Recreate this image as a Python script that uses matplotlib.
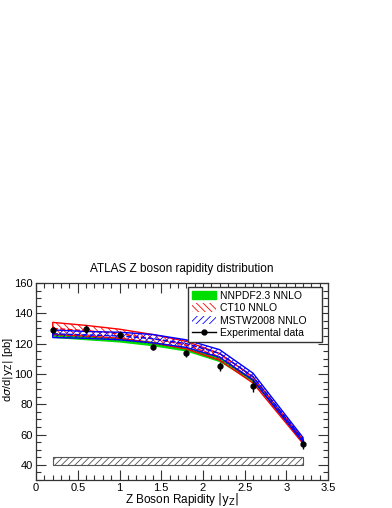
import matplotlib
matplotlib.use("Agg")
import matplotlib.pyplot as plt
import numpy as np
from matplotlib.ticker import MultipleLocator

plt.rcParams['font.family'] = ['Liberation Sans', 'DejaVu Sans']
plt.rcParams['hatch.linewidth'] = 0.6

x = [0.2, 0.6, 1.0, 1.4, 1.8, 2.2, 2.6, 3.2]
nnpdf_lo = [124.0, 122.5, 121.0, 118.5, 115.0, 108.0, 94.5, 54.5]
nnpdf_hi = [127.0, 125.5, 124.0, 121.5, 118.0, 111.0, 97.0, 56.5]
ct10_lo = [126.0, 125.0, 123.5, 120.5, 116.5, 109.0, 94.0, 54.0]
ct10_hi = [134.0, 132.0, 129.5, 126.0, 121.5, 113.5, 98.0, 56.5]
mstw_lo = [124.0, 123.5, 122.5, 120.5, 117.5, 111.0, 96.0, 55.0]
mstw_hi = [129.0, 128.0, 127.5, 126.0, 122.5, 116.0, 100.5, 58.0]
data_y = [129.0, 129.5, 126.0, 118.0, 113.5, 105.0, 92.0, 53.5]
data_err = [2.0, 2.5, 2.0, 2.0, 2.5, 3.0, 4.0, 3.0]
sys_band = [40.0, 45.0]

fig = plt.figure(figsize=(3.92, 5.08), dpi=100)
ax = fig.add_axes([0.092, 0.055, 0.745, 0.388])

x = np.array(x)
# NNPDF green
ax.fill_between(x, nnpdf_lo, nnpdf_hi, color='#00dd00', lw=0, zorder=2)
ax.plot(x, (np.array(nnpdf_lo) + np.array(nnpdf_hi)) / 2, color='#007700', ls=':', lw=1.0, zorder=3)
# CT10 red hatched
ax.fill_between(x, ct10_lo, ct10_hi, facecolor='none', edgecolor='red', hatch='\\\\\\\\\\', lw=1.0, zorder=3)
ax.plot(x, (np.array(ct10_lo) + np.array(ct10_hi)) / 2, color='red', ls='--', lw=1.0, zorder=3)
# MSTW blue hatched
ax.fill_between(x, mstw_lo, mstw_hi, facecolor='none', edgecolor='blue', hatch='/////', lw=1.0, zorder=4)
ax.plot(x, (np.array(mstw_lo) + np.array(mstw_hi)) / 2, color='blue', ls='--', lw=1.0, zorder=4)
# systematic band
ax.fill_between([x[0], x[-1]], [sys_band[0]] * 2, [sys_band[1]] * 2, facecolor='none',
                edgecolor='#555555', hatch='/////', lw=0.8, zorder=2)
# data
ax.errorbar(x, data_y, yerr=data_err, fmt='o', color='black', ms=3.5, elinewidth=1.0, capsize=0, zorder=6)

ax.set_xlim(0, 3.5)
ax.set_ylim(30, 160)
ax.xaxis.set_major_locator(MultipleLocator(0.5))
ax.xaxis.set_minor_locator(MultipleLocator(0.1))
ax.yaxis.set_major_locator(MultipleLocator(20))
ax.yaxis.set_minor_locator(MultipleLocator(5))
ax.tick_params(which='both', direction='in', top=True, right=True, labelsize=8, color='#333333')
ax.tick_params(which='major', length=7, width=0.8)
ax.tick_params(which='minor', length=3.5, width=0.8)
ax.tick_params(axis='x', pad=2)
ax.tick_params(axis='y', pad=2.5)
ax.xaxis.set_major_formatter(plt.FuncFormatter(lambda v, p: ('%g' % v)))
for s in ax.spines.values():
    s.set_linewidth(0.9)
    s.set_color('#333333')

ax.set_title('ATLAS Z boson rapidity distribution', fontsize=8.5, pad=8)
ax.set_xlabel(r'Z Boson Rapidity $|\mathrm{y_Z}|$', fontsize=8.5)
ax.xaxis.set_label_coords(0.5, -0.058)
ax.set_ylabel(r'd$\sigma$/d$|\mathrm{y_Z}|$ [pb]', fontsize=8)
ax.yaxis.set_label_coords(-0.072, 0.56)

from matplotlib.patches import Patch
from matplotlib.lines import Line2D
handles = [
    Patch(facecolor='#00dd00', edgecolor='#00dd00'),
    Patch(facecolor='white', edgecolor='red', hatch='\\\\\\\\\\', lw=0),
    Patch(facecolor='white', edgecolor='blue', hatch='/////', lw=0),
    Line2D([], [], color='black', marker='o', ms=3.5, lw=1.0),
]
labels = ['NNPDF2.3 NNLO', 'CT10 NNLO', 'MSTW2008 NNLO', 'Experimental data']
leg = ax.legend(handles, labels, loc='upper left', bbox_to_anchor=(0.52, 0.726, 0.46, 0.254),
                mode='expand', borderaxespad=0,
                fontsize=7.5, frameon=True, fancybox=False, edgecolor='#333333', framealpha=1,
                handlelength=2.3, handleheight=0.9, labelspacing=0.25, borderpad=0.35,
                handletextpad=0.4, shadow=False)
leg.get_frame().set_linewidth(1.0)

fig.savefig('out.png', dpi=100)
